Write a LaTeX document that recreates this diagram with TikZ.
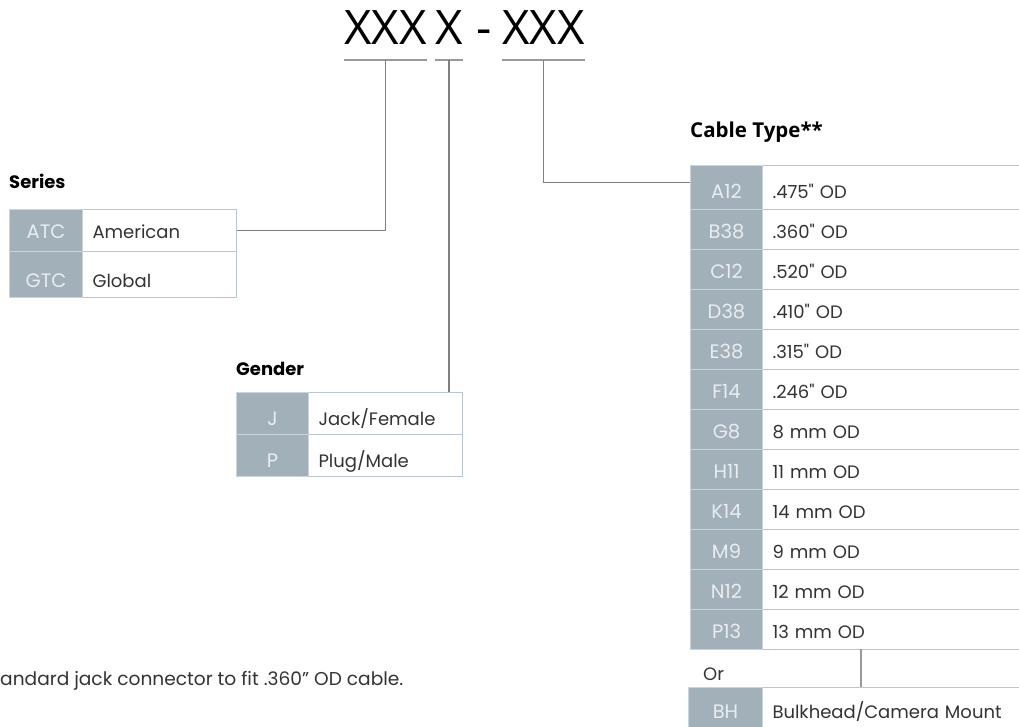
\documentclass[tikz,border=0pt]{standalone}
\usepackage{fontspec}
\setmainfont{Poppins}
\newfontfamily\osans{Open Sans}
\definecolor{codefill}{HTML}{A2B0BA}
\definecolor{codetext}{HTML}{E9EDF0}
\definecolor{codesep}{HTML}{CAD4DA}
\definecolor{cellline}{HTML}{B9C6CE}
\definecolor{connline}{HTML}{808080}
\definecolor{bodytext}{HTML}{333333}
\begin{document}
\begin{tikzpicture}[x=1pt,y=-1pt,
  body/.style={font=\fontsize{18}{20}\selectfont, text=bodytext},
  cellbase/.style={anchor=north west, inner ysep=0pt, text depth=0pt, line width=1pt},
  code/.style={cellbase, fill=codefill, draw=codesep, text=codetext, align=center, inner xsep=0pt,
    font=\fontsize{19.5}{20}\selectfont},
  desc/.style={cellbase, fill=white, draw=cellline, align=left, inner xsep=10pt, body},
  title/.style={anchor=base west, inner sep=0pt, text=black, font=\fontsize{18}{20}\selectfont\bfseries},
  big/.style={anchor=base west, inner sep=0pt, text=black, font=\osans\fontsize{47.5}{50}\selectfont},
  conn/.style={draw=connline, line width=1.3pt},
  uline/.style={draw=connline!80, line width=1.3pt}
]
\useasboundingbox (0,0) rectangle (1019,727);

% top code
\node[big] (s1) at (344,45) {XXX};
\node[big] (s2) at (435,45) {X};
\node[big] (dash) at (476,45) {-};
\node[big] (s3) at (502,45) {XXX};
\coordinate (u1) at (s1.base |- 0,60);
\coordinate (u2) at (s2.base |- 0,60);
\coordinate (u3) at (s3.base |- 0,60);
\draw[uline] (s1.west |- u1) -- (s1.east |- u1);
\draw[uline] (s2.west |- u2) -- (s2.east |- u2);
\draw[uline] (s3.west |- u3) -- (s3.east |- u3);

% Series
\node[title] (seriest) at (9,189) {Series};
\node[desc, minimum width=154, text width=134, minimum height=42, text height=17pt] (american) at (82,209) {American};
\node[code, minimum width=73, text width=73, minimum height=42, text height=17pt] (atc) at (9,209) {ATC};
\node[desc, minimum width=154, text width=134, minimum height=46, text height=25pt] (global) at (82,251) {Global};
\node[code, minimum width=73, text width=73, minimum height=46, text height=25pt] (gtc) at (9,251) {GTC};

% Gender
\node[title] (gendert) at (236,375) {Gender};
\node[desc, minimum width=154, text width=134, minimum height=42, text height=24pt] (jack) at (308,392) {Jack/Female};
\node[code, minimum width=72, text width=72, minimum height=42, text height=24pt] (jcode) at (236,392) {J};
\node[desc, minimum width=154, text width=134, minimum height=42, text height=24pt] (plug) at (308,434) {Plug/Male};
\node[code, minimum width=72, text width=72, minimum height=42, text height=24pt] (pcode) at (236,434) {P};

% Cable type
\node[title, font=\osans\fontsize{20.5}{22}\selectfont\bfseries] (cablet) at (690,138) {Cable Type**};
\foreach \cc/\dd [count=\i] in {A12/.475\textquotedbl{} OD, B38/.360\textquotedbl{} OD, C12/.520\textquotedbl{} OD, D38/.410\textquotedbl{} OD, E38/.315\textquotedbl{} OD, F14/.246\textquotedbl{} OD, G8/8 mm OD, H11/11 mm OD, K14/14 mm OD, M9/9 mm OD, N12/12 mm OD, P13/13 mm OD}{
  \pgfmathsetmacro\tp{\i==1 ? 165 : 169+40*(\i-1)}
  \pgfmathsetmacro\rh{\i==1 ? 44 : 40}
  \pgfmathsetmacro\rt{\i==1 ? 22 : 18}
  \node[desc, minimum width=268, text width=248, minimum height=\rh pt, text height=\rt pt] (d\i) at (762,\tp) {\dd};
  \node[code, minimum width=72, text width=72, minimum height=\rh pt, text height=\rt pt] (c\i) at (690,\tp) {\cc};
}
\node[body, anchor=base west, inner sep=0pt] (ortext) at (703,680) {Or};
\node[desc, minimum width=268, text width=248, minimum height=42, text height=20pt] (bhd) at (762,687) {Bulkhead/Camera Mount};
\node[code, minimum width=74, text width=74, minimum height=42, text height=20pt] (bh) at (688,687) {BH};
\coordinate (orl) at (861,649);
\draw[conn, draw=connline!80] (orl) -- (orl |- bhd.north);

% footnote
\node[body, anchor=base west, inner sep=0pt, font=\fontsize{18.6}{20}\selectfont] (foot) at (0,685) {andard jack connector to fit .360” OD cable.};

% connectors
\draw[conn] (u1) |- (american.east);
\draw[conn] (u2) -- (u2 |- jack.north);
\draw[conn] (u3) |- ([yshift=5pt]c1.west);
\end{tikzpicture}
\end{document}
